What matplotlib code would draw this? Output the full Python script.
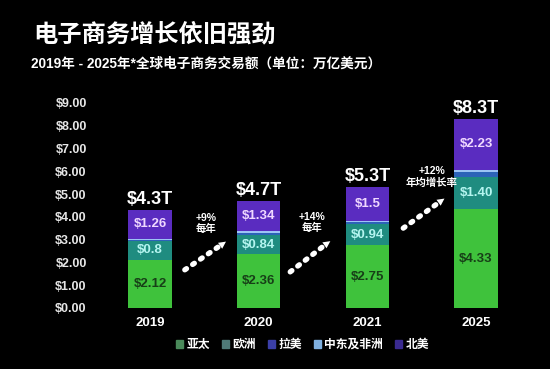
import matplotlib
matplotlib.use("Agg")
import matplotlib.pyplot as plt
import numpy as np

plt.rcParams['font.family'] = ['Liberation Sans', 'Noto Sans CJK SC', 'DejaVu Sans']

# data (trillion USD)
years = ['2019', '2020', '2021', '2025']
regions = ['亚太', '欧洲', '拉美', '中东及非洲', '北美']
apac = [2.12, 2.36, 2.75, 4.33]
europe = [0.8, 0.84, 0.94, 1.40]
latam = [0.07, 0.09, 0.06, 0.22]
mea = [0.05, 0.07, 0.05, 0.12]
namerica = [1.26, 1.34, 1.5, 2.23]
totals = [4.3, 4.7, 5.3, 8.3]
apac_labels = ['$2.12', '$2.36', '$2.75', '$4.33']
europe_labels = ['$0.8', '$0.84', '$0.94', '$1.40']
na_labels = ['$1.26', '$1.34', '$1.5', '$2.23']
growth_top = ['+9%', '+14%', '+12%']
growth_bottom = ['每年', '每年', '年均增长率']
yticks = np.arange(0, 10, 1)

colors = ['#3fc23c', '#1f8c80', '#2c63b8', '#9cc4f5', '#5a2cc0']
legend_colors = ['#4a8a5a', '#4f7a78', '#3b3fa8', '#7fb0e0', '#3a2a90']

fig = plt.figure(figsize=(5.5, 3.69), dpi=100, facecolor='black')
ax = fig.add_axes([95 / 550, 0.1626, 435 / 550, 0.577])
ax.set_facecolor('black')

x = np.arange(len(years))
w = 0.40
bottom = np.zeros(len(years))
for vals, c in zip([apac, europe, latam, mea, namerica], colors):
    ax.bar(x, vals, w, bottom=bottom, color=c, edgecolor='none')
    bottom += np.array(vals)

# segment labels
for i in range(len(years)):
    ax.text(x[i], apac[i] / 2, apac_labels[i], ha='center', va='center',
            color='#173f17', fontsize=9.5, fontweight='bold')
    ax.text(x[i], apac[i] + europe[i] / 2, europe_labels[i], ha='center', va='center',
            color='#b5f5f0', fontsize=9.5, fontweight='bold')
    base = apac[i] + europe[i] + latam[i] + mea[i]
    ax.text(x[i], base + namerica[i] / 2, na_labels[i], ha='center', va='center',
            color='#efd8ff', fontsize=9.5, fontweight='bold')
    ax.text(x[i], bottom[i] + 0.08, f'${totals[i]}T', ha='center', va='bottom',
            color='white', fontsize=13, fontweight='bold')

# growth arrows between bars
arrows = [((0.32, 1.67), (0.72, 2.98)),
          ((1.29, 1.58), (1.68, 3.0)),
          ((2.33, 3.5), (2.73, 4.87))]
text_pos = [(0.52, 3.95), (1.49, 4.0), (2.59, 6.0)]
for (p0, p1), (tx, ty), t1, t2 in zip(arrows, text_pos, growth_top, growth_bottom):
    ax.plot([p0[0], p1[0] - 0.06], [p0[1], p1[1] - 0.2], color='white',
            linestyle=(0, (0.4, 1.4)), linewidth=3.8,
            dash_capstyle='round')
    ax.annotate('', xy=p1, xytext=(p1[0] - 0.08, p1[1] - 0.27),
                arrowprops=dict(arrowstyle='-|>', color='white', lw=0,
                                mutation_scale=13))
    ax.text(tx, ty, t1, ha='center', va='center', color='white',
            fontsize=7.5, fontweight='bold')
    ax.text(tx, ty - 0.5, t2, ha='center', va='center', color='white',
            fontsize=7.5, fontweight='bold')

ax.set_xlim(-0.506, 3.496)
ax.set_ylim(-0.05, 9.3)
ax.set_xticks(x)
ax.set_xticklabels(years, color='white', fontsize=9.5, fontweight='bold')
ax.set_yticks(yticks)
ax.set_yticklabels([f'${v:.2f}' for v in yticks], color='#e6e6e6',
                   fontsize=9, fontweight='bold')
ax.tick_params(length=0, pad=6)
for s in ax.spines.values():
    s.set_visible(False)

handles = [plt.Rectangle((0, 0), 1, 1, color=c) for c in legend_colors]
leg = fig.legend(handles, regions, loc='center', bbox_to_anchor=(0.55, 0.065),
                 ncol=5, frameon=False, fontsize=8.5, handlelength=0.6,
                 handleheight=0.6, handletextpad=0.3, columnspacing=1.0)
for t in leg.get_texts():
    t.set_color('white')
    t.set_fontweight('bold')

fig.text(33 / 550, 1 - 35 / 369, '电子商务增长依旧强劲', color='white',
         fontsize=17.5, fontweight='bold', va='center', ha='left')
fig.text(31 / 550, 1 - 64 / 369, '2019年 - 2025年*全球电子商务交易额（单位：万亿美元）',
         color='white', fontsize=9.8, fontweight='bold', va='center', ha='left')

fig.savefig('out.png', dpi=100, facecolor='black')
